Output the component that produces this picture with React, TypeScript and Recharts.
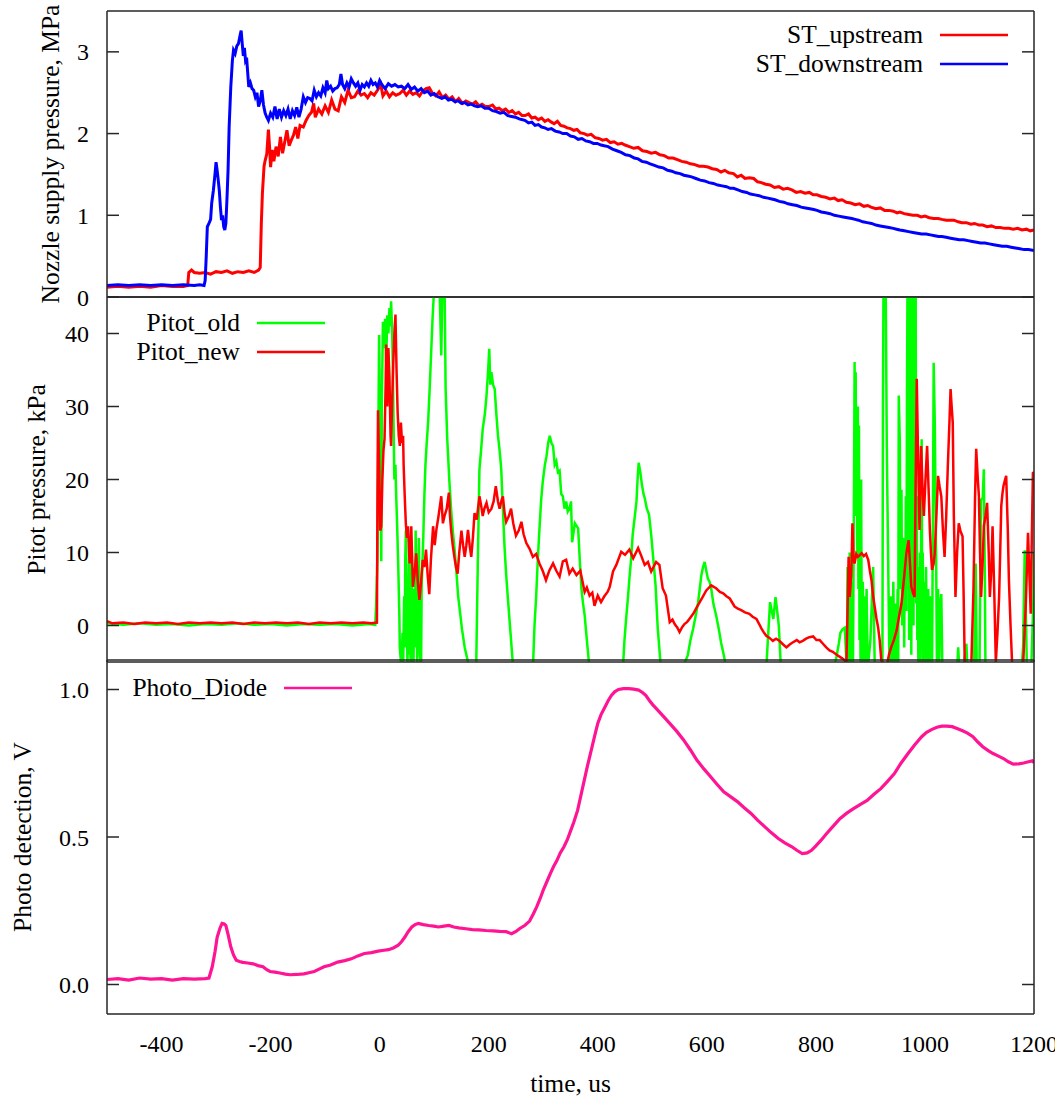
import React from "react";
import { LineChart, Line, XAxis, YAxis, Legend } from "recharts";

type Pt = [number, number];

const SERIF = "'Liberation Serif', 'Times New Roman', serif";

const timeTicks = [-400, -200, 0, 200, 400, 600, 800, 1000, 1200];
const supplyTicks = [0, 1, 2, 3];
const pitotTicks = [0, 10, 20, 30, 40];
const photoTicks = [0, 0.5, 1.0];

const supplyNames = ["ST_upstream", "ST_downstream"];
const pitotNames = ["Pitot_old", "Pitot_new"];
const photoNames = ["Photo_Diode"];

// nozzle supply pressure, MPa
const stUpstream: Pt[] = [
  [-500, 0.12], [-480, 0.13], [-460, 0.12], [-440, 0.13], [-420, 0.12], [-400, 0.14], [-380, 0.13], [-360, 0.13],
  [-352, 0.14], [-350, 0.3], [-345, 0.33], [-340, 0.3], [-330, 0.29], [-320, 0.3], [-310, 0.28], [-300, 0.31],
  [-290, 0.3], [-280, 0.32], [-270, 0.29], [-260, 0.31], [-250, 0.3], [-240, 0.32], [-230, 0.3], [-222, 0.33],
  [-219, 0.36], [-217, 0.9], [-215, 1.27], [-212, 1.6], [-210, 1.67], [-207, 1.75], [-204, 2.05], [-202, 1.85],
  [-200, 1.59], [-197, 1.8], [-194, 1.66], [-190, 1.84], [-186, 1.72], [-182, 1.96], [-178, 1.76], [-174, 1.9],
  [-170, 2.04], [-166, 1.85], [-162, 1.92], [-158, 1.98], [-154, 2.08], [-150, 1.94], [-146, 2.1], [-140, 2.08],
  [-135, 2.16], [-130, 2.22], [-125, 2.26], [-121, 2.37], [-118, 2.2], [-112, 2.3], [-106, 2.24], [-100, 2.34],
  [-94, 2.26], [-88, 2.41], [-82, 2.3], [-76, 2.28], [-70, 2.45], [-64, 2.38], [-58, 2.53], [-52, 2.44],
  [-46, 2.45], [-40, 2.52], [-34, 2.47], [-28, 2.49], [-22, 2.44], [-16, 2.5], [-10, 2.47], [-4, 2.53],
  [2, 2.6], [6, 2.46], [12, 2.52], [18, 2.45], [24, 2.5], [30, 2.47], [37, 2.49], [43, 2.53], [49, 2.47],
  [55, 2.52], [61, 2.48], [67, 2.5], [73, 2.46], [79, 2.52], [85, 2.55], [91, 2.56], [97, 2.49], [103, 2.46],
  [109, 2.51], [115, 2.44], [121, 2.47], [127, 2.42], [133, 2.45], [139, 2.39], [145, 2.43], [152, 2.37],
  [158, 2.4], [164, 2.38], [170, 2.36], [176, 2.39], [182, 2.34], [188, 2.36], [194, 2.33], [200, 2.33],
  [207, 2.35], [213, 2.3], [219, 2.31], [225, 2.28], [231, 2.3], [237, 2.26], [243, 2.28], [249, 2.24],
  [255, 2.26], [261, 2.22], [267, 2.22], [273, 2.24], [279, 2.19], [285, 2.2], [291, 2.17], [297, 2.19],
  [303, 2.15], [309, 2.17], [315, 2.14], [320, 2.12], [326, 2.15], [332, 2.1], [338, 2.09], [344, 2.07],
  [350, 2.06], [356, 2.04], [362, 2.05], [368, 2.01], [375, 2.0], [381, 1.98], [388, 1.99], [395, 1.95],
  [402, 1.94], [409, 1.92], [416, 1.93], [423, 1.89], [430, 1.9], [437, 1.87], [444, 1.88], [450, 1.86],
  [458, 1.84], [466, 1.82], [474, 1.83], [482, 1.79], [490, 1.78], [498, 1.76], [506, 1.77], [514, 1.74],
  [522, 1.73], [530, 1.7], [538, 1.7], [546, 1.68], [554, 1.66], [562, 1.65], [570, 1.63], [578, 1.62],
  [586, 1.6], [594, 1.6], [602, 1.59], [610, 1.57], [618, 1.56], [626, 1.53], [633, 1.55], [640, 1.52],
  [649, 1.51], [656, 1.47], [663, 1.49], [670, 1.45], [678, 1.46], [686, 1.45], [693, 1.41], [700, 1.4],
  [708, 1.38], [716, 1.37], [724, 1.34], [732, 1.35], [740, 1.32], [748, 1.33], [756, 1.31], [764, 1.28],
  [772, 1.29], [780, 1.27], [788, 1.28], [795, 1.25], [802, 1.25], [810, 1.23], [818, 1.22], [826, 1.2],
  [834, 1.21], [841, 1.18], [848, 1.19], [856, 1.16], [864, 1.15], [872, 1.13], [880, 1.14], [888, 1.11],
  [895, 1.12], [901, 1.1], [910, 1.08], [918, 1.09], [926, 1.06], [934, 1.06], [942, 1.05], [949, 1.03],
  [954, 1.04], [962, 1.02], [970, 1.01], [978, 1.0], [986, 1.0], [993, 0.98], [1000, 0.99], [1008, 0.97],
  [1016, 0.96], [1024, 0.96], [1031, 0.95], [1039, 0.94], [1046, 0.94], [1053, 0.94], [1061, 0.92],
  [1068, 0.91], [1076, 0.91], [1084, 0.89], [1091, 0.9], [1099, 0.88], [1106, 0.88], [1114, 0.86],
  [1122, 0.87], [1130, 0.85], [1138, 0.85], [1146, 0.84], [1154, 0.84], [1162, 0.83], [1170, 0.84],
  [1178, 0.82], [1186, 0.83], [1193, 0.81], [1200, 0.82],
];

const stDownstream: Pt[] = [
  [-500, 0.14], [-480, 0.15], [-460, 0.14], [-440, 0.15], [-420, 0.14], [-400, 0.15], [-380, 0.14], [-360, 0.15],
  [-340, 0.14], [-330, 0.15], [-322, 0.14], [-320, 0.2], [-318, 0.5], [-316, 0.86], [-313, 0.9], [-310, 0.95],
  [-308, 1.15], [-305, 1.3], [-302, 1.5], [-300, 1.65], [-298, 1.55], [-296, 1.43], [-294, 1.3], [-292, 1.1],
  [-290, 0.94], [-288, 1.0], [-286, 0.86], [-284, 0.82], [-282, 0.9], [-280, 1.2], [-278, 1.55], [-276, 2.08],
  [-273, 2.57], [-270, 2.9], [-268, 3.02], [-265, 2.98], [-262, 3.07], [-259, 3.1], [-256, 3.2], [-254, 3.26],
  [-252, 3.1], [-250, 2.95], [-248, 3.05], [-246, 2.9], [-244, 2.93], [-242, 2.75], [-240, 2.57], [-237, 2.62],
  [-234, 2.55], [-231, 2.53], [-228, 2.45], [-225, 2.5], [-222, 2.33], [-219, 2.4], [-216, 2.53], [-213, 2.35],
  [-210, 2.25], [-207, 2.2], [-204, 2.16], [-200, 2.25], [-196, 2.2], [-192, 2.33], [-188, 2.18], [-184, 2.3],
  [-180, 2.2], [-176, 2.28], [-172, 2.22], [-168, 2.3], [-164, 2.18], [-160, 2.28], [-156, 2.22], [-152, 2.32],
  [-148, 2.2], [-144, 2.3], [-140, 2.45], [-136, 2.38], [-132, 2.44], [-128, 2.43], [-124, 2.4], [-120, 2.53],
  [-116, 2.45], [-112, 2.5], [-108, 2.46], [-104, 2.56], [-100, 2.5], [-97, 2.65], [-94, 2.55], [-90, 2.58],
  [-86, 2.52], [-82, 2.55], [-78, 2.56], [-74, 2.6], [-71, 2.73], [-68, 2.6], [-64, 2.55], [-60, 2.62],
  [-56, 2.57], [-52, 2.67], [-48, 2.62], [-44, 2.58], [-40, 2.62], [-36, 2.53], [-32, 2.6], [-28, 2.57],
  [-24, 2.62], [-20, 2.58], [-16, 2.65], [-12, 2.6], [-8, 2.62], [-4, 2.57], [0, 2.65], [4, 2.6], [10, 2.55],
  [16, 2.61], [22, 2.58], [28, 2.6], [34, 2.57], [40, 2.58], [46, 2.55], [52, 2.6], [58, 2.54], [64, 2.57],
  [70, 2.52], [76, 2.55], [82, 2.5], [88, 2.52], [94, 2.47], [100, 2.49], [107, 2.45], [114, 2.43], [120, 2.45],
  [126, 2.41], [132, 2.42], [138, 2.39], [144, 2.4], [150, 2.37], [156, 2.38], [162, 2.35], [168, 2.36],
  [174, 2.34], [180, 2.33], [186, 2.34], [193, 2.31], [200, 2.31], [207, 2.28], [214, 2.27], [221, 2.25],
  [228, 2.26], [235, 2.22], [242, 2.21], [249, 2.2], [256, 2.18], [262, 2.17], [267, 2.16], [273, 2.13],
  [279, 2.14], [285, 2.1], [291, 2.11], [297, 2.08], [303, 2.07], [309, 2.05], [315, 2.06], [322, 2.03],
  [329, 2.02], [336, 2.0], [343, 2.0], [350, 1.97], [357, 1.96], [364, 1.93], [371, 1.94], [378, 1.91],
  [385, 1.9], [392, 1.88], [399, 1.88], [406, 1.86], [412, 1.85], [419, 1.84], [427, 1.81], [435, 1.79],
  [443, 1.77], [451, 1.74], [459, 1.73], [467, 1.7], [474, 1.69], [481, 1.66], [489, 1.65], [496, 1.63],
  [504, 1.61], [512, 1.59], [520, 1.58], [528, 1.55], [536, 1.54], [543, 1.52], [551, 1.51], [558, 1.49],
  [565, 1.48], [572, 1.47], [580, 1.45], [588, 1.43], [596, 1.42], [604, 1.4], [612, 1.39], [620, 1.37],
  [628, 1.36], [636, 1.35], [643, 1.33], [649, 1.33], [657, 1.31], [665, 1.29], [673, 1.28], [680, 1.26],
  [688, 1.25], [696, 1.24], [704, 1.22], [712, 1.21], [719, 1.2], [725, 1.19], [733, 1.17], [741, 1.16],
  [749, 1.14], [757, 1.13], [765, 1.12], [773, 1.1], [781, 1.09], [789, 1.08], [796, 1.07], [802, 1.06],
  [810, 1.04], [818, 1.03], [826, 1.02], [834, 1.0], [842, 0.99], [850, 0.98], [858, 0.97], [866, 0.96],
  [872, 0.95], [878, 0.94], [886, 0.92], [894, 0.91], [902, 0.9], [910, 0.88], [918, 0.87], [926, 0.86],
  [934, 0.85], [942, 0.84], [948, 0.83], [954, 0.82], [962, 0.81], [970, 0.8], [978, 0.79], [986, 0.78],
  [994, 0.77], [1002, 0.77], [1010, 0.76], [1018, 0.75], [1025, 0.74], [1031, 0.74], [1039, 0.73],
  [1047, 0.72], [1055, 0.71], [1063, 0.7], [1071, 0.7], [1079, 0.69], [1087, 0.68], [1095, 0.67],
  [1102, 0.66], [1110, 0.66], [1118, 0.65], [1126, 0.64], [1134, 0.63], [1142, 0.62], [1150, 0.62],
  [1158, 0.61], [1166, 0.6], [1174, 0.59], [1182, 0.58], [1190, 0.58], [1200, 0.57],
];

// pitot pressure, kPa
const pitotOld: Pt[] = [
  [-500, 0.3], [-470, 0.1], [-440, 0.3], [-410, 0.1], [-380, 0.2], [-350, 0.0], [-320, 0.2], [-290, 0.1],
  [-260, 0.3], [-230, 0.1], [-200, 0.2], [-170, 0.0], [-140, 0.2], [-110, 0.1], [-80, 0.2], [-50, 0.0],
  [-20, 0.2], [-8, 0.1], [-6, 3.9], [-4, 9.3], [-3, 20], [-1, 39.8], [1, 25], [3, 8.8], [4, 30], [6, 41.6],
  [8, 38], [10, 42], [12, 36], [14, 42.5], [16, 40], [18, 43.5], [20, 41], [21, 44.4], [23, 40], [24, 36],
  [26, 25], [27, 20], [29, 22], [30, 18.6], [32, 14], [34, 8.5], [36, 2], [37, -3], [40, -6], [42, -1],
  [43, -6], [45, 4], [46, -3], [47, 9], [48, 13], [49, 0], [50, 2], [51, -6], [52, 3], [53, 6], [54, 11],
  [55, -4], [56, -2], [57, -6], [58, 4], [59, 9.4], [60, 2], [61, -5], [62, -6], [63, 2], [64, 5], [65, -3],
  [66, 13], [67, 6], [68, 1], [69, -6], [70, 3], [71, 8], [72, 12], [73, 0], [74, -4], [76, -6], [77, 5],
  [80, 12], [82, 17.7], [84, 22], [86, 24.6], [89, 28], [92, 32.9], [95, 38.4], [97, 42], [99, 44.9],
  [102, 47], [106, 48], [110, 46], [112, 40], [113, 37], [115, 46], [119, 47], [121, 32.4], [124, 25.5],
  [128, 19.6], [131, 16], [134, 13.1], [138, 10], [141, 7.1], [144, 4], [147, 2.1], [151, -0.5], [156, -3],
  [165, -6], [177, -6], [180, 8.5], [183, 21.4], [186, 24], [189, 26.9], [193, 29], [196, 31.5], [199, 35],
  [201, 37.9], [203, 33], [205, 34.7], [208, 33], [211, 32.4], [214, 29], [217, 26], [220, 24], [223, 21.4],
  [226, 16], [229, 10.8], [232, 7], [235, 3.9], [240, -1], [245, -6], [281, -6], [284, 0], [287, 3.9],
  [290, 9], [293, 13.1], [296, 17], [299, 19.6], [303, 22], [306, 23.2], [309, 25], [312, 26], [315, 25],
  [318, 24.6], [321, 22], [324, 22.5], [327, 21], [330, 21.2], [333, 18], [336, 17.7], [339, 16], [342, 17],
  [345, 15.6], [348, 16], [351, 17], [353, 11.4], [358, 14], [364, 13.3], [367, 9], [370, 5.1], [373, 3],
  [376, 1.4], [380, -2], [385, -6], [446, -6], [449, -2], [452, 0.9], [455, 3.5], [458, 6.4], [461, 9],
  [464, 12.4], [468, 15], [471, 17], [473, 20], [475, 22.3], [478, 21], [481, 19.3], [484, 18], [486, 17.5],
  [490, 16], [494, 15.2], [498, 12.4], [502, 9], [506, 5.5], [510, -0.4], [516, -6], [556, -6], [560, -5],
  [565, -4.1], [570, -2], [575, -0.4], [580, 1.5], [584, 3.2], [587, 5], [590, 6.9], [593, 8], [596, 8.7],
  [599, 7.5], [602, 6.4], [605, 6], [608, 5.1], [612, 3], [617, 1.4], [622, -0.5], [626, -2.3], [631, -4],
  [636, -6], [709, -6], [712, -1.9], [716, 3.2], [719, 2], [722, 0.9], [726, 3.9], [729, 2], [732, 0],
  [736, -6], [831, -6], [834, -5.5], [838, -4.2], [842, -2.5], [845, -1], [849, -0.5], [853, -0.3], [856, -5],
  [857, -6], [858, 8], [859, -6], [860, 5], [861, -4], [862, 10], [863, -6], [864, 3], [865, -6], [866, 6],
  [867, -5], [868, -6], [870, 20], [871, 36.1], [872, 15], [873, 34.7], [874, 20], [875, 30], [876, 10],
  [877, 30], [878, 5], [879, 27.4], [880, -2], [881, 8.5], [882, -6], [883, 20], [884, 0], [885, -5],
  [886, 6], [887, -6], [888, 4], [890, -6], [893, 5], [895, -6], [900, -2], [905, 8], [908, -6], [922, -6],
  [923, 30], [924, 47], [928, 47], [930, 25], [932, 12.4], [934, 0], [935, -6], [936, -6], [938, 4],
  [940, -6], [942, 6], [944, -6], [946, 3], [948, -6], [950, 5], [951, -6], [952, 31.5], [954, 25], [955, 5],
  [957, 18.6], [958, 0], [959, 12], [961, 8.5], [962, -3], [963, 12], [964, 3], [965, 17.7], [966, 2],
  [967, 30], [968, 47], [969, 10], [970, 40], [971, -2], [972, 47], [973, 5], [974, 30], [975, -4],
  [976, 47], [977, 8], [978, 47], [979, 0], [980, 35], [981, 12], [982, 47], [983, 47], [984, 3],
  [985, 17.7], [986, -2], [987, 5], [988, -6], [989, 8], [990, -0.9], [991, 10], [992, -6], [993, 12],
  [994, 25.5], [995, 0], [996, 10], [997, -6], [999, 6], [1000, -6], [1002, 8], [1004, -6], [1006, 5],
  [1008, -6], [1010, 4], [1012, -6], [1013, -6], [1015, 20], [1016, 36], [1018, 28], [1019, 20.5], [1021, 5],
  [1022, -6], [1024, 5], [1026, -6], [1028, 3], [1030, 4.3], [1032, -6], [1059, -6], [1061, -3], [1063, -6],
  [1070, -6], [1076, -2.5], [1078, -6], [1090, -6], [1093, 8.5], [1095, -6], [1100, -6], [1103, 17.2],
  [1106, 17.5], [1108, 21.4], [1110, 5], [1111, -6], [1177, -6], [1180, -3], [1183, 10.3], [1185, 2],
  [1187, -6], [1195, -6], [1199, 3.9], [1200, 10],
];

const pitotNew: Pt[] = [
  [-500, 0.6], [-490, 0.3], [-470, 0.4], [-450, 0.2], [-430, 0.4], [-410, 0.3], [-390, 0.4], [-370, 0.2],
  [-350, 0.4], [-330, 0.3], [-310, 0.4], [-290, 0.3], [-270, 0.4], [-250, 0.2], [-230, 0.4], [-210, 0.3],
  [-190, 0.4], [-170, 0.3], [-150, 0.4], [-130, 0.2], [-110, 0.4], [-90, 0.3], [-70, 0.4], [-50, 0.3],
  [-30, 0.4], [-15, 0.3], [-5, 0.4], [-4, 17.7], [-3, 29.5], [-1, 22], [1, 13], [3, 13.6], [5, 20], [7, 24],
  [9, 25.6], [11, 33], [12, 38.5], [14, 30], [16, 38], [18, 34], [20, 26], [21, 24.6], [23, 31], [25, 36],
  [27, 40], [29, 42.6], [31, 35], [33, 29.2], [35, 26], [37, 24.6], [39, 27.8], [41, 25], [43, 26], [44, 22],
  [46, 17.7], [48, 14], [50, 12], [52, 13.6], [54, 10], [55, 8.5], [57, 11], [58, 13.6], [60, 8], [61, 5.3],
  [64, 7], [67, 9.9], [70, 6], [73, 3.5], [76, 6], [79, 9], [82, 8], [85, 10.4], [88, 7], [91, 4.3], [94, 9],
  [98, 13.6], [101, 11], [104, 13.1], [108, 15], [113, 17.7], [116, 14], [119, 15], [123, 16], [127, 18.2],
  [129, 15], [131, 13.1], [134, 11], [137, 9.4], [140, 8], [143, 7.1], [146, 10], [150, 13], [153, 11],
  [156, 9.4], [159, 11], [162, 13.1], [165, 11], [168, 9.4], [171, 12], [174, 15.4], [178, 14.5], [183, 17.7],
  [186, 16.5], [189, 15], [192, 16], [196, 16.8], [200, 15.5], [205, 16], [209, 17], [213, 19.1], [217, 17],
  [220, 16], [223, 17], [226, 17.7], [229, 15.5], [232, 14.2], [237, 15], [241, 16], [245, 14], [250, 12.3],
  [255, 13], [260, 14.2], [264, 12.5], [269, 11.3], [275, 10.5], [281, 9.4], [287, 9.8], [293, 8.5],
  [299, 7.5], [305, 6.2], [311, 7.5], [318, 8.5], [324, 7.5], [330, 6.7], [336, 8.8], [342, 9.0], [348, 7.1],
  [354, 7.8], [361, 6.9], [368, 7.5], [376, 4.6], [380, 5.2], [385, 4.1], [390, 4.5], [394, 2.7], [400, 4.1],
  [406, 3.2], [412, 4.0], [418, 4.6], [422, 5.3], [428, 7.4], [434, 8.3], [443, 10.1], [450, 9.7],
  [458, 10.4], [465, 9.2], [474, 10.6], [480, 9.5], [486, 8.3], [492, 8.7], [498, 7.4], [507, 8.7],
  [513, 8.3], [519, 5.1], [525, 4.1], [532, 0.45], [537, 0.8], [541, 0.2], [546, -0.3], [550, -0.9],
  [555, -0.2], [559, 0.2], [564, 0.5], [568, 0.9], [575, 1.6], [581, 2.4], [587, 3.2], [593, 4.0], [599, 4.8],
  [608, 5.5], [617, 5.1], [624, 4.6], [630, 4.4], [636, 4.0], [642, 3.7], [651, 2.6], [657, 2.3], [663, 2.1],
  [670, 1.8], [678, 1.6], [684, 1.2], [691, 0.9], [696, 0.2], [700, -0.4], [705, -1.0], [709, -1.4],
  [715, -1.7], [721, -2.1], [727, -1.8], [733, -2.1], [740, -2.6], [746, -3.0], [752, -2.6], [758, -2.3],
  [765, -2.0], [770, -2.3], [776, -2.1], [782, -1.8], [788, -1.6], [795, -1.5], [801, -2.0], [807, -2.0],
  [813, -2.5], [819, -3.0], [825, -3.4], [831, -3.6], [838, -4.0], [844, -4.3], [850, -4.6], [856, -5.0],
  [858, 1.6], [860, 9.4], [862, 3.9], [865, 7], [867, 14], [869, 9], [871, 8.5], [874, 9.8], [877, 9.4],
  [880, 9.6], [884, 9.9], [888, 9.5], [892, 9.8], [896, 9.0], [899, 7.5], [902, 6.2], [905, 4], [908, 2.5],
  [911, 1], [914, -0.2], [917, -2], [920, -4.8], [925, -5.3], [930, -5.5], [934, -4], [938, -3], [943, -2],
  [948, -0.7], [952, 1], [957, 3], [961, 6], [966, 9.9], [970, 11.7], [973, 8], [975, 5.3], [978, 4.5],
  [981, 3.9], [983, 20], [985, 33.8], [987, 25], [990, 13.1], [993, 24.6], [996, 18], [998, 15], [1001, 20],
  [1004, 24.6], [1007, 18], [1009, 13.1], [1011, 10], [1013, 7.6], [1016, 8.5], [1018, 9.9], [1021, 15],
  [1024, 20.5], [1027, 19], [1030, 17.7], [1033, 13], [1036, 9.4], [1039, 15], [1042, 21.9], [1045, 28],
  [1047, 32.4], [1049, 30], [1051, 27.8], [1053, 15], [1056, 3.9], [1059, 10], [1062, 14], [1065, 13],
  [1069, 12.2], [1071, 4], [1073, -5.3], [1080, -6], [1085, -5.5], [1089, 5], [1092, 18], [1094, 24.2],
  [1097, 20], [1099, 17.7], [1101, 10], [1103, 3.9], [1106, 9], [1108, 13.6], [1111, 15], [1114, 16.8],
  [1117, 10], [1119, 3.9], [1122, 8], [1124, 13.6], [1127, 5], [1130, -5], [1133, -1], [1136, 3.9],
  [1138, 10], [1140, 16.4], [1142, 18], [1144, 19.1], [1147, 20], [1149, 20.5], [1152, 13], [1154, 6.2],
  [1157, 0], [1160, -5.5], [1180, -5.5], [1185, 3], [1189, 12.7], [1192, 6], [1194, 1.6], [1196, 12],
  [1198, 20.9], [1200, 21],
];

// photo detection, V
const photoDiode: Pt[] = [
  [-500, 0.017], [-480, 0.02], [-460, 0.015], [-440, 0.022], [-420, 0.018], [-400, 0.02], [-380, 0.015],
  [-360, 0.02], [-340, 0.018], [-320, 0.02], [-313, 0.022], [-307, 0.06], [-302, 0.11], [-298, 0.16],
  [-293, 0.19], [-289, 0.207], [-285, 0.205], [-282, 0.2], [-278, 0.17], [-273, 0.128], [-268, 0.1],
  [-263, 0.082], [-257, 0.078], [-251, 0.075], [-242, 0.073], [-232, 0.07], [-223, 0.064], [-214, 0.06],
  [-207, 0.05], [-201, 0.044], [-192, 0.042], [-183, 0.039], [-173, 0.035], [-164, 0.033], [-152, 0.034],
  [-139, 0.036], [-130, 0.04], [-120, 0.044], [-111, 0.052], [-102, 0.06], [-90, 0.066], [-77, 0.076],
  [-64, 0.081], [-52, 0.087], [-40, 0.097], [-28, 0.105], [-15, 0.108], [-3, 0.113], [8, 0.116], [16, 0.118],
  [25, 0.124], [34, 0.133], [40, 0.145], [46, 0.16], [52, 0.178], [59, 0.195], [65, 0.203], [71, 0.207],
  [80, 0.203], [90, 0.2], [99, 0.198], [108, 0.195], [118, 0.198], [127, 0.2], [136, 0.195], [145, 0.192],
  [158, 0.189], [170, 0.186], [182, 0.185], [195, 0.183], [208, 0.182], [220, 0.18], [232, 0.179],
  [242, 0.172], [250, 0.18], [257, 0.19], [266, 0.2], [275, 0.215], [282, 0.24], [288, 0.263], [294, 0.29],
  [300, 0.32], [307, 0.35], [313, 0.376], [319, 0.4], [325, 0.42], [331, 0.445], [338, 0.467], [344, 0.49],
  [350, 0.52], [356, 0.55], [363, 0.59], [369, 0.64], [375, 0.69], [381, 0.74], [388, 0.794], [394, 0.84],
  [400, 0.885], [406, 0.915], [413, 0.94], [419, 0.962], [425, 0.98], [431, 0.992], [438, 1.0], [447, 1.003],
  [457, 1.003], [466, 1.001], [475, 0.998], [482, 0.99], [488, 0.98], [495, 0.962], [501, 0.948],
  [507, 0.936], [520, 0.91], [532, 0.885], [545, 0.858], [557, 0.83], [570, 0.795], [582, 0.76], [595, 0.73],
  [607, 0.704], [619, 0.678], [631, 0.653], [644, 0.636], [656, 0.62], [668, 0.6], [681, 0.58], [693, 0.557],
  [706, 0.535], [718, 0.515], [731, 0.495], [743, 0.48], [756, 0.467], [765, 0.455], [775, 0.444],
  [784, 0.446], [792, 0.455], [800, 0.47], [810, 0.49], [819, 0.51], [831, 0.535], [844, 0.562], [856, 0.58],
  [869, 0.596], [881, 0.61], [894, 0.624], [906, 0.644], [919, 0.664], [931, 0.688], [944, 0.715],
  [956, 0.75], [969, 0.783], [981, 0.812], [994, 0.84], [1003, 0.855], [1013, 0.865], [1022, 0.872],
  [1031, 0.876], [1040, 0.876], [1050, 0.874], [1060, 0.867], [1069, 0.86], [1078, 0.852], [1088, 0.84],
  [1097, 0.822], [1106, 0.806], [1116, 0.793], [1125, 0.783], [1134, 0.775], [1144, 0.766], [1153, 0.755],
  [1162, 0.747], [1172, 0.748], [1181, 0.751], [1190, 0.755], [1197, 0.758], [1200, 0.752],
];

const rows = (pts: Pt[]) => pts.map(([t, v]) => ({ t, v }));

const AXIS = "#262626";
const tickText = { fontFamily: SERIF, fontSize: 24, fill: "#000" };
const titleStyle = { fontFamily: SERIF, fontSize: 25.5, fill: "#000", textAnchor: "middle" as const };
const T_DOMAIN = [-500, 1200];
const TICK_LEN = 12;

// inward tick mark drawn from the point recharts gives each tick of a mirrored axis
const mark = (dx: number, dy: number) => (p: any) => (
  <line x1={p.x} y1={p.y} x2={p.x + dx * TICK_LEN} y2={p.y + dy * TICK_LEN} stroke={AXIS} strokeWidth={1.5} />
);

function Key({ payload, textWidth, order }: any) {
  const items = [...(payload || [])].sort((a: any, b: any) => order.indexOf(a.value) - order.indexOf(b.value));
  return (
    <div style={{ fontFamily: SERIF, fontSize: 25.5, color: "#000" }}>
      {items.map((p: any) => (
        <div key={p.value} style={{ display: "flex", alignItems: "center", height: 29 }}>
          <span style={{ width: textWidth, textAlign: "right", whiteSpace: "nowrap", lineHeight: "29px" }}>
            {p.value}
          </span>
          <svg width={86} height={6}>
            <line x1={17} x2={85} y1={3} y2={3} stroke={p.color} strokeWidth={2.5} />
          </svg>
        </div>
      ))}
    </div>
  );
}

// gnuplot-like box: mirrored axes carry the frame and inward ticks, the plain left axis carries the labels
function frame(yDomain: number[], yTicks: number[], title: string, titleOffset: number, fmt?: (v: number) => string) {
  const mirrorProps = { mirror: true, type: "number" as const, allowDataOverflow: true, interval: 0 as const,
    tickLine: false, tickSize: 0, tickMargin: 0, stroke: AXIS, strokeWidth: 1.5 };
  return [
    <XAxis key="xt" xAxisId="top" orientation="top" domain={T_DOMAIN} ticks={timeTicks} height={12}
      tick={mark(0, 1)} {...mirrorProps} />,
    <XAxis key="xbm" xAxisId="bm" orientation="bottom" domain={T_DOMAIN} ticks={timeTicks} height={12}
      tick={mark(0, -1)} {...mirrorProps} />,
    <YAxis key="yl" yAxisId="l" type="number" domain={yDomain} allowDataOverflow ticks={yTicks} interval={0}
      tickLine={false} axisLine={false} tickSize={0} tickMargin={18} width={107} tick={tickText} tickFormatter={fmt}
      label={{ value: title, angle: -90, position: "insideLeft", offset: titleOffset, style: titleStyle }} />,
    <YAxis key="ylm" yAxisId="lm" orientation="left" domain={yDomain} ticks={yTicks} width={12}
      tick={mark(1, 0)} {...mirrorProps} />,
    <YAxis key="yrm" yAxisId="rm" orientation="right" domain={yDomain} ticks={yTicks} width={12}
      tick={mark(-1, 0)} {...mirrorProps} />,
  ];
}

export default function App() {
  return (
    <div style={{ position: "absolute", left: 0, top: 0, width: 1055, height: 1100, background: "#fff", fontFamily: SERIF }}>
      <div style={{ position: "absolute", left: 0, top: 0 }}>
        <LineChart width={1055} height={310} margin={{ top: 11, right: 21, bottom: 13, left: 0 }}>
          {frame([0, 3.5], supplyTicks, "Nozzle supply pressure, MPa", 50)}
          <XAxis xAxisId="b" type="number" dataKey="t" domain={T_DOMAIN} allowDataOverflow hide />
          <Line xAxisId="b" yAxisId="l" data={rows(stUpstream)} dataKey="v" name="ST_upstream" type="linear"
            stroke="#ff0000" strokeWidth={3} dot={false} isAnimationActive={false} />
          <Line xAxisId="b" yAxisId="l" data={rows(stDownstream)} dataKey="v" name="ST_downstream" type="linear"
            stroke="#0000ff" strokeWidth={3} dot={false} isAnimationActive={false} />
          <Legend layout="vertical" align="center" verticalAlign="middle"
            wrapperStyle={{ left: 723, top: 20, width: "auto" }}
            content={(props: any) => <Key {...props} textWidth={200} order={supplyNames} />} />
        </LineChart>
      </div>

      <div style={{ position: "absolute", left: 0, top: 290 }}>
        <LineChart width={1055} height={380} margin={{ top: 7, right: 21, bottom: 8, left: 0 }}>
          {frame([-5, 45], pitotTicks, "Pitot pressure, kPa", 36)}
          <XAxis xAxisId="b" type="number" dataKey="t" domain={T_DOMAIN} allowDataOverflow hide />
          <Line xAxisId="b" yAxisId="l" data={rows(pitotOld)} dataKey="v" name="Pitot_old" type="linear"
            stroke="#00ff00" strokeWidth={2.5} dot={false} isAnimationActive={false} />
          <Line xAxisId="b" yAxisId="l" data={rows(pitotNew)} dataKey="v" name="Pitot_new" type="linear"
            stroke="#ff0000" strokeWidth={2.5} dot={false} isAnimationActive={false} />
          <Legend layout="vertical" align="center" verticalAlign="middle"
            wrapperStyle={{ left: 100, top: 18, width: "auto" }}
            content={(props: any) => <Key {...props} textWidth={140} order={pitotNames} />} />
        </LineChart>
      </div>

      <div style={{ position: "absolute", left: 0, top: 650 }}>
        <LineChart width={1055} height={450} margin={{ top: 10, right: 21, bottom: 8, left: 0 }}>
          {frame([-0.1, 1.1], photoTicks, "Photo detection, V", 22, (v: number) => v.toFixed(1))}
          <XAxis xAxisId="b" type="number" dataKey="t" domain={T_DOMAIN} allowDataOverflow ticks={timeTicks}
            interval={0} tick={tickText} tickLine={false} axisLine={false} tickSize={0} tickMargin={21} height={78}
            label={{ value: "time, us", position: "insideBottom", offset: 0, style: titleStyle }} />
          <Line xAxisId="b" yAxisId="l" data={rows(photoDiode)} dataKey="v" name="Photo_Diode" type="linear"
            stroke="#ff1493" strokeWidth={3.2} dot={false} isAnimationActive={false} />
          <Legend layout="vertical" align="center" verticalAlign="middle"
            wrapperStyle={{ left: 107, top: 23, width: "auto" }}
            content={(props: any) => <Key {...props} textWidth={160} order={photoNames} />} />
        </LineChart>
      </div>
    </div>
  );
}
